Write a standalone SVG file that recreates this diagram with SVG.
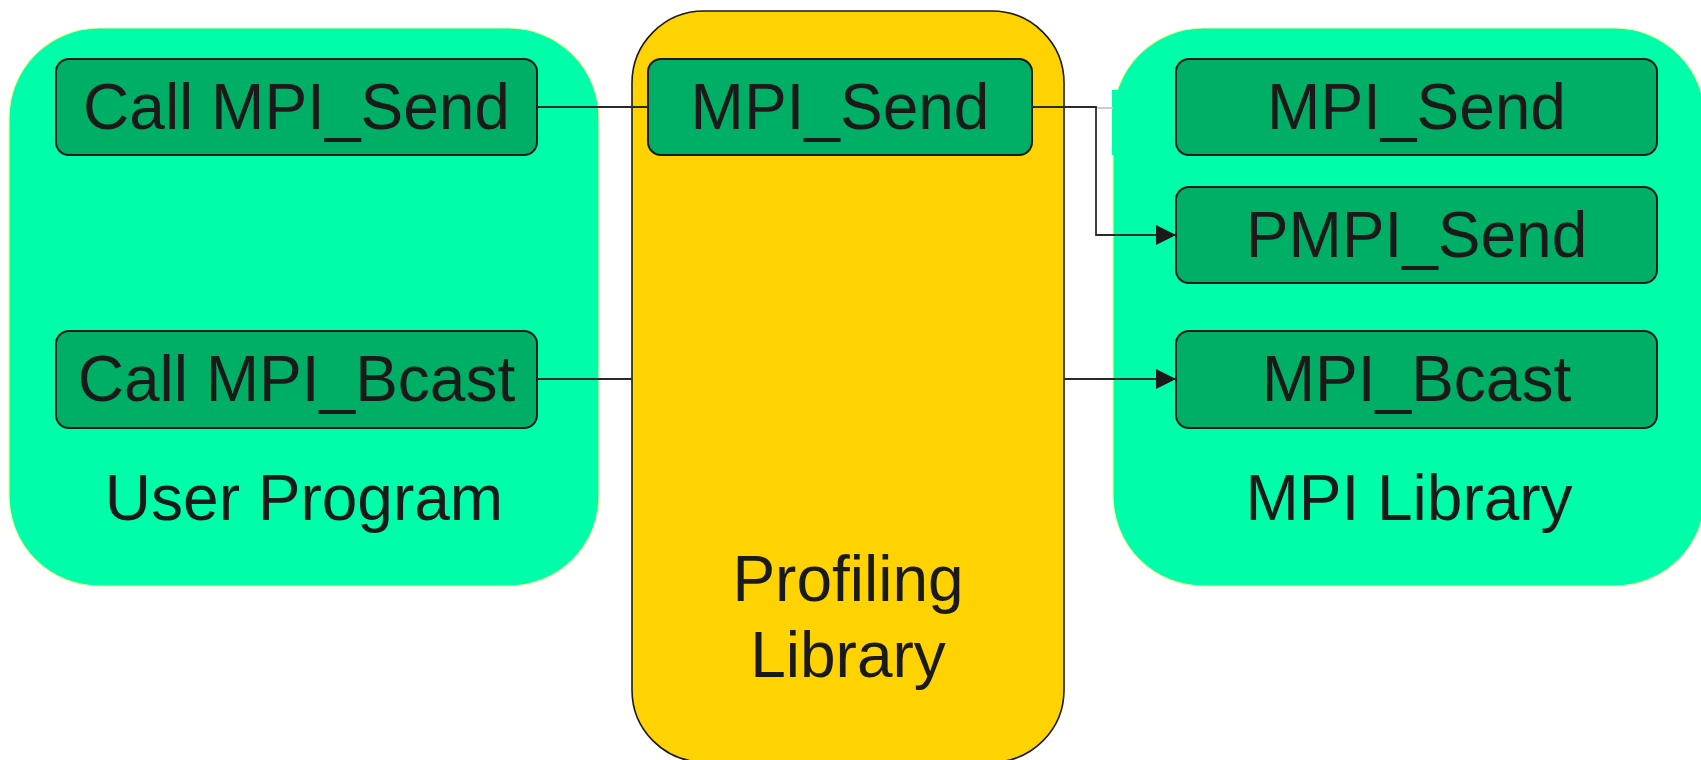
<svg xmlns="http://www.w3.org/2000/svg" width="1701" height="760" viewBox="0 0 1701 760">
  <style>
    .panel { fill: #00FDAA; stroke: #F2F5A0; stroke-width: 1.2; }
    .prof { fill: #FFD300; stroke: #1a1a1a; stroke-width: 1.6; }
    .fn { fill: #00AF66; stroke: #1a1a1a; stroke-width: 2; }
    .lbl { font-family: "Liberation Sans", Arial, sans-serif; font-size: 64px; fill: #1a1a1a; text-anchor: middle; }
    .wire { fill: none; stroke: #2a2a2a; stroke-width: 1.8; }
  </style>
  <defs>
    <marker id="arrow" markerWidth="20" markerHeight="20" refX="20" refY="10" orient="auto" markerUnits="userSpaceOnUse">
      <path d="M0,0 L20,10 L0,20 Z" fill="#1a1a1a"/>
    </marker>
  </defs>
  <rect width="1701" height="760" fill="#ffffff"/>

  <!-- User program container -->
  <g id="user-program">
    <rect class="panel" x="9" y="28" width="590" height="558" rx="90" ry="90"/>
    <text class="lbl" x="304" y="520">User Program</text>
  </g>

  <!-- Profiling layer container -->
  <g id="profiling-library">
    <rect class="prof" x="632" y="11" width="432" height="751" rx="72" ry="72"/>
    <text class="lbl" x="848" y="601">Profiling</text>
    <text class="lbl" x="848" y="677">Library</text>
  </g>

  <!-- MPI library container -->
  <g id="mpi-library">
    <rect class="panel" x="1113" y="28" width="592" height="558" rx="90" ry="90"/>
    <rect x="1112" y="90" width="30" height="65" fill="#00FDAA"/>
    <text class="lbl" x="1409" y="520">MPI Library</text>
  </g>

  <g id="call-mpi-send">
    <rect class="fn" x="56" y="59" width="481" height="96" rx="13"/>
    <text class="lbl" x="296.5" y="129">Call MPI_Send</text>
  </g>
  <g id="call-mpi-bcast">
    <rect class="fn" x="56" y="331" width="481" height="97" rx="13"/>
    <text class="lbl" x="296.5" y="401">Call MPI_Bcast</text>
  </g>
  <g id="prof-mpi-send">
    <rect class="fn" x="648" y="59" width="384" height="96" rx="13"/>
    <text class="lbl" x="840" y="129">MPI_Send</text>
  </g>
  <g id="lib-mpi-send">
    <rect class="fn" x="1176" y="59" width="481" height="96" rx="13"/>
    <text class="lbl" x="1416.5" y="129">MPI_Send</text>
  </g>
  <g id="lib-pmpi-send">
    <rect class="fn" x="1176" y="187" width="481" height="96" rx="13"/>
    <text class="lbl" x="1416.5" y="257">PMPI_Send</text>
  </g>
  <g id="lib-mpi-bcast">
    <rect class="fn" x="1176" y="331" width="481" height="97" rx="13"/>
    <text class="lbl" x="1416.5" y="401">MPI_Bcast</text>
  </g>

  <!-- Connectors -->
  <g id="connectors">
    <line class="wire" x1="537" y1="107" x2="648" y2="107"/>
    <line x1="1096" y1="108" x2="1113" y2="108" stroke="#c8c8c8" stroke-width="1.8"/>
    <polyline class="wire" points="1032,107 1096,107 1096,235 1176,235" marker-end="url(#arrow)"/>
    <line class="wire" x1="537" y1="379" x2="632" y2="379"/>
    <line class="wire" x1="1064" y1="379" x2="1176" y2="379" marker-end="url(#arrow)"/>
  </g>
</svg>
